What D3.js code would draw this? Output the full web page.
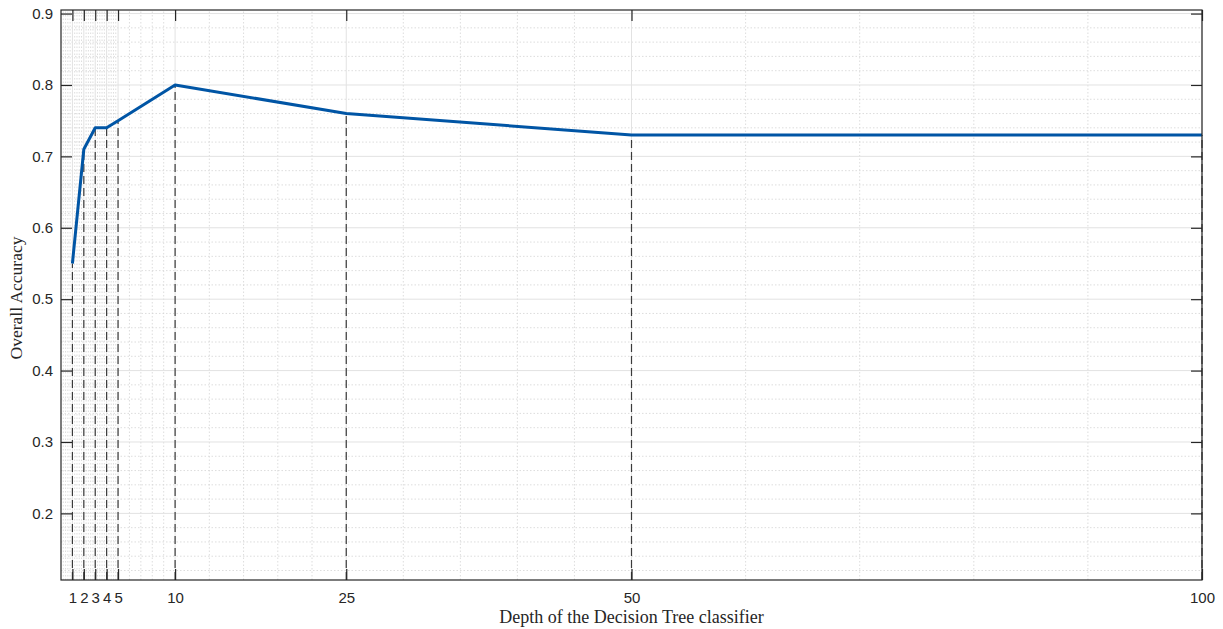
<!DOCTYPE html>
<html>
<head>
<meta charset="utf-8">
<script src="https://cdn.jsdelivr.net/npm/d3@7"></script>
<style>
  html, body { margin: 0; padding: 0; background: #ffffff; }
  svg { display: block; }
</style>
</head>
<body>
<svg id="chart" width="1223" height="629"></svg>
<script>
// Tree depth tested and the overall accuracy reached at each depth
const depths = [1, 2, 3, 4, 5, 10, 25, 50, 100];
const accuracy = [0.55, 0.71, 0.74, 0.74, 0.75, 0.80, 0.76, 0.73, 0.73];
const xTickValues = [1, 2, 3, 4, 5, 10, 25, 50, 100];
const yTickValues = [0.2, 0.3, 0.4, 0.5, 0.6, 0.7, 0.8, 0.9];
const xLabel = "Depth of the Decision Tree classifier";
const yLabel = "Overall Accuracy";

const svg = d3.select("#chart");
const margin = { left: 61, right: 21, top: 10, bottom: 49 };
const W = 1223, H = 629;
const x0 = margin.left, x1 = W - margin.right;
const y0 = H - margin.bottom, y1 = margin.top;

const x = d3.scaleLinear().domain([0, 100]).range([x0, x1]);
const y = d3.scaleLinear().domain([0.1067, 0.905]).range([y0, y1]);

const axisColor = "#262626";
const g = svg.append("g");

// Minor vertical grid: each interval between neighbouring ticks split into five
const xBreaks = [0].concat(xTickValues);
const xMinor = [];
for (let i = 0; i < xBreaks.length - 1; i++) {
  const a = xBreaks[i], b = xBreaks[i + 1];
  for (let k = 1; k < 5; k++) xMinor.push(a + (b - a) * k / 5);
}
g.append("g").selectAll("line").data(xMinor).join("line")
  .attr("x1", d => x(d)).attr("x2", d => x(d))
  .attr("y1", y0).attr("y2", y1)
  .attr("stroke", "#d4d4d4").attr("stroke-width", 0.8)
  .attr("stroke-dasharray", "1.5,2");

// Minor horizontal grid every 0.02
const yMinor = d3.range(0.12, 0.905, 0.02).filter(v => Math.abs(v * 10 - Math.round(v * 10)) > 0.01);
g.append("g").selectAll("line").data(yMinor).join("line")
  .attr("x1", x0).attr("x2", x1)
  .attr("y1", d => y(d)).attr("y2", d => y(d))
  .attr("stroke", "#d4d4d4").attr("stroke-width", 0.8)
  .attr("stroke-dasharray", "1.5,2");

// Major grid lines
g.append("g").selectAll("line").data(xTickValues).join("line")
  .attr("x1", d => x(d)).attr("x2", d => x(d))
  .attr("y1", y0).attr("y2", y1)
  .attr("stroke", "#e2e2e2").attr("stroke-width", 1);
g.append("g").selectAll("line").data(yTickValues).join("line")
  .attr("x1", x0).attr("x2", x1)
  .attr("y1", d => y(d)).attr("y2", d => y(d))
  .attr("stroke", "#e2e2e2").attr("stroke-width", 1);

// Dashed drop lines from each measured point down to the axis
g.append("g").selectAll("line").data(depths).join("line")
  .attr("x1", d => x(d)).attr("x2", d => x(d))
  .attr("y1", y0).attr("y2", (d, i) => y(accuracy[i]))
  .attr("stroke", "#3a3a3a").attr("stroke-width", 1.2)
  .attr("stroke-dasharray", "8,4");

// Accuracy curve
const line = d3.line().x((d, i) => x(depths[i])).y(d => y(d));
g.append("path").datum(accuracy)
  .attr("d", line)
  .attr("fill", "none")
  .attr("stroke", "#0055a5")
  .attr("stroke-width", 3)
  .attr("stroke-linejoin", "round");

// Axes with inward ticks on all four sides
const tickLen = 11;
const fmtY = d3.format(".1f");
const bottomAxis = d3.axisBottom(x).tickValues(xTickValues).tickSize(-tickLen).tickPadding(12).tickFormat(d3.format("d"));
const topAxis = d3.axisTop(x).tickValues(xTickValues).tickSize(-tickLen).tickFormat("");
const leftAxis = d3.axisLeft(y).tickValues(yTickValues).tickSize(-tickLen).tickPadding(8).tickFormat(fmtY);
const rightAxis = d3.axisRight(y).tickValues(yTickValues).tickSize(-tickLen).tickFormat("");

function style(sel) {
  sel.select(".domain").attr("stroke", axisColor).attr("stroke-width", 1.2);
  sel.selectAll(".tick line").attr("stroke", axisColor).attr("stroke-width", 1.2);
  sel.selectAll(".tick text").attr("fill", axisColor)
    .style("font-family", "'Liberation Sans', Arial, sans-serif").style("font-size", "15px");
}
svg.append("g").attr("transform", `translate(0,${y0})`).call(bottomAxis).call(style);
svg.append("g").attr("transform", `translate(0,${y1})`).call(topAxis).call(style);
svg.append("g").attr("transform", `translate(${x0},0)`).call(leftAxis).call(style);
svg.append("g").attr("transform", `translate(${x1},0)`).call(rightAxis).call(style);
svg.selectAll(".domain").attr("d", null);
svg.append("rect").attr("x", x0).attr("y", y1).attr("width", x1 - x0).attr("height", y0 - y1)
  .attr("fill", "none").attr("stroke", axisColor).attr("stroke-width", 1.2);

// Axis titles
svg.append("text")
  .attr("x", (x0 + x1) / 2).attr("y", 623)
  .attr("text-anchor", "middle")
  .style("font-family", "'Liberation Serif', 'Times New Roman', serif")
  .style("font-size", "18px").attr("fill", "#262626")
  .text(xLabel);
svg.append("text")
  .attr("transform", `translate(22,${(y0 + y1) / 2 + 3}) rotate(-90)`)
  .attr("text-anchor", "middle")
  .style("font-family", "'Liberation Serif', 'Times New Roman', serif")
  .style("font-size", "17.5px").attr("fill", "#262626")
  .text(yLabel);
</script>
</body>
</html>
